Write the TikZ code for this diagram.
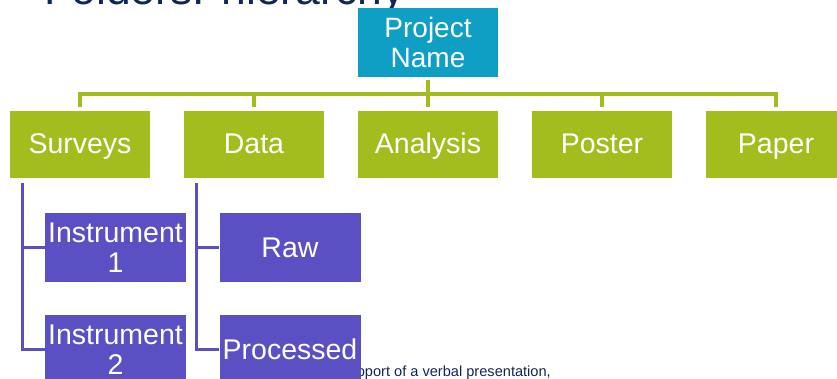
\documentclass[tikz,border=0pt]{standalone}
\usepackage{fontspec}
\setmainfont{Liberation Sans}
\definecolor{projteal}{RGB}{16,159,196}
\definecolor{topgreen}{RGB}{163,189,31}
\definecolor{subpurple}{RGB}{90,79,195}
\definecolor{titlenavy}{RGB}{16,38,88}
\begin{document}
\begin{tikzpicture}[
  x=1pt,
  y=-1pt,
  line cap=butt,
  line join=miter,
  projbox/.style={rectangle,fill=projteal,text=white,inner sep=0pt,
    minimum width=140pt,minimum height=69pt,align=center,
    font=\fontsize{28}{30}\selectfont},
  topbox/.style={rectangle,fill=topgreen,text=white,inner sep=0pt,
    minimum width=140pt,minimum height=67pt,text height=25pt,
    text depth=6pt,font=\fontsize{28.5}{30}\selectfont},
  subbox/.style={rectangle,fill=subpurple,text=white,inner sep=0pt,
    minimum width=141pt,minimum height=69pt,align=center,
    font=\fontsize{28.5}{30}\selectfont},
  greenlink/.style={draw=topgreen,line width=3.4pt},
  purplelink/.style={draw=subpurple,line width=2.8pt}
]
  \clip (0,0) rectangle (837,379);
  \useasboundingbox (0,0) rectangle (837,379);

  % Title, cut off by the top edge.
  \node[anchor=base west,inner sep=0pt,text=titlenavy,
    font=\fontsize{44.5}{48}\selectfont] (title) at (44,4.5)
    {Folders: hierarchy};

  % Note text, partly under the Processed box.
  \node[anchor=base east,inner sep=0pt,text=titlenavy,
    font=\fontsize{14.6}{16}\selectfont] (note) at (551,376)
    {support of a verbal presentation,};

  % Root.
  \node[projbox] (proj) at (428,42.5) {Project\\Name};

  % First level.
  \node[topbox] (surveys)  at (80,144.5)  {Surveys};
  \node[topbox] (data)     at (254,144.5) {Data};
  \node[topbox] (analysis) at (428,144.5) {Analysis};
  \node[topbox] (poster)   at (602,144.5) {Poster};
  \node[topbox] (paper)    at (776,144.5) {Paper};

  \coordinate (bus) at (428,94);
  \draw[greenlink,shorten <=3pt] (proj.south) -- (bus);
  \foreach \n in {surveys,data,analysis,poster,paper} {
    \draw[greenlink,shorten >=4pt] (bus) -| (\n.north);
  }

  % Second level.
  \node[subbox] (inst1) at (115.5,247.5) {Instrument\\1};
  \node[subbox] (inst2) at (115.5,349.5) {Instrument\\2};
  \node[subbox] (raw)   at (290,247.5)   {Raw};
  \node[subbox] (proc)  at (290,349.5)   {Processed};

  \foreach \p/\c in {surveys/inst1,surveys/inst2,data/raw,data/proc} {
    \draw[purplelink] ([xshift=13pt,yshift=-5pt]\p.south west) |- (\c.west);
  }
\end{tikzpicture}
\end{document}
